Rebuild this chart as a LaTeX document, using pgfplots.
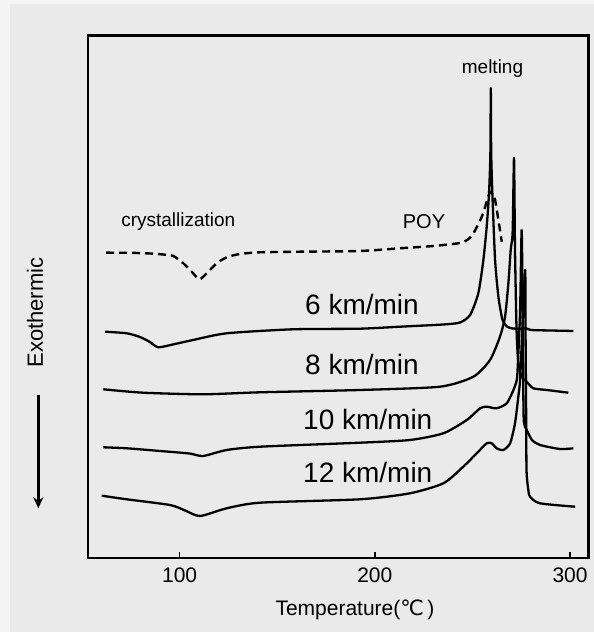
\documentclass[border=0pt]{standalone}
\usepackage{pgfplots}
\pgfplotsset{compat=1.18}
\usepackage{fontspec}
\setmainfont{Liberation Sans}
\newfontfamily\dejavu{DejaVu Sans}
\usetikzlibrary{arrows.meta}
\definecolor{bg}{HTML}{EAEAEA}
\definecolor{bgl}{HTML}{F4F4F4}
\begin{document}
\begin{tikzpicture}[x=1pt,y=1pt]
\fill[bg] (0,0) rectangle (594,632);
\fill[bgl] (0,0) rectangle (10,632);
\fill[bgl] (0,628) rectangle (594,632);
\useasboundingbox (0,0) rectangle (594,632);
\begin{axis}[
  at={(87.9pt,74pt)}, anchor=south west,
  scale only axis, width=500.5pt, height=522.5pt,
  xmin=53.02, xmax=309.4, ymin=74, ymax=596.5,
  xtick={100,200,300}, ytick=\empty,
  xtick pos=bottom, tick align=inside,
  major tick length=6pt,
  tick style={line width=1.5pt, black},
  xticklabel style={font=\fontsize{21}{21}\selectfont, yshift=-6pt},
  /pgf/number format/assume math mode=true,
  clip=false,
  curve/.style={black, line width=2.3pt, mark=none, smooth, tension=0.4, line join=round},
]
\draw[line width=2.5pt, line join=miter] (rel axis cs:0,0) rectangle (rel axis cs:1,1);
% POY (dashed)
\addplot[curve, dash pattern=on 8pt off 5pt, line width=2.4pt] coordinates {
(62.3,379.3) (74.6,379.2) (84.8,378.5) (91.5,377.5) (96.8,376) (101.9,368.7)
(106.2,360.3) (110.1,352.7) (113.9,358.7) (119.0,368.7) (124.1,374.7) (130.9,378)
(141.2,379.7) (161.7,380.3) (192.4,381) (212.9,383.7) (230,386) (243.6,389)
(248,393) (250.5,398.7) (254.8,415.3) (257.6,432) (259.0,440.3) (260.3,438)
(261.6,432) (263.3,412) (265.0,390.3)};
% 6 km/min
\addplot[curve] coordinates {
(61.8,300.3) (72.9,298.7) (79.7,295) (84.8,290) (89.1,284.7) (97.6,288)
(106.9,292) (124.1,298.7) (158.1,302.7) (192.4,303.3) (212.9,305.3) (235,307.5)
(243.6,309.5) (248.8,317) (253.0,338.7) (255.6,372) (257.3,405.3) (258.5,438.7)
(259.2,480) (259.4,544) (259.6,480) (260.2,438.7) (261.6,372) (263.3,335)
(265.0,315.3) (265.8,310.3) (267.6,305.5) (269.3,304) (272,303.3) (275,303.2)
(277.5,303.7) (280,302) (290,301.5) (301.7,301)};
% 8 km/min
\addplot[curve] coordinates {
(60.9,242.7) (81.3,239.3) (112.0,237.7) (141.2,239.7) (192.4,242) (233.4,245.3)
(250.5,255.3) (259.0,272) (264.1,295.3) (266.7,315.3) (268.4,348.7) (269.6,382)
(270.6,400.3) (271.3,474) (271.8,382) (272.6,302) (273.4,272) (274.9,256)
(277.8,250.3) (281.2,243.7) (288.1,242) (299.1,239.3)};
% 10 km/min
\addplot[curve] coordinates {
(60.9,184.7) (72.9,183.7) (90.0,181) (105,178.5) (112.0,176) (124.1,182) (141.2,185.3)
(192.4,189.3) (218.0,192) (235.1,198.7) (247.1,212) (253.9,223.7) (257.3,225.3)
(262.4,223.7) (267.6,228.7) (271.0,242) (272.7,252) (273.2,265.3) (274.4,320)
(275.2,402) (275.7,332) (276.1,232) (276.4,209) (277.8,202) (280.5,192)
(284.6,187) (294.9,183) (301.7,183.7)};
% 12 km/min
\addplot[curve] coordinates {
(60.1,136.3) (72.9,132.7) (95.1,127) (102.8,121.5) (110.5,116) (124.1,123.7)
(141.2,129.3) (192.4,132.7) (218.0,138.7) (235.1,148.7) (245.3,165.3) (252.2,178.7)
(257.3,188.7) (259.9,188.7) (262.4,183.7) (265.8,182) (269.3,188.7) (271.8,208.7)
(273.5,235.3) (274.4,252) (275.5,300) (277.0,362) (277.2,300) (277.5,220)
(277.7,162) (278.5,144) (279.5,135.3) (284.6,128.7) (302.6,125.3)};
\end{axis}
\node[font=\fontsize{19}{19}\selectfont] at (492.5,563.7) {melting};
\node[font=\fontsize{19}{19}\selectfont] at (178.3,410.3) {crystallization};
\node[font=\fontsize{20}{20}\selectfont] at (424,410.3) {POY};
\node[anchor=base west, inner sep=0, font=\fontsize{28}{28}\selectfont] at (305,317) {6 km/min};
\node[anchor=base west, inner sep=0, font=\fontsize{28}{28}\selectfont] at (305,257) {8 km/min};
\node[anchor=base west, inner sep=0, font=\fontsize{28}{28}\selectfont] at (303,202) {10 km/min};
\node[anchor=base west, inner sep=0, font=\fontsize{28}{28}\selectfont] at (303,149) {12 km/min};
\node[font=\fontsize{21}{21}\selectfont] at (355,22) {Temperature({\dejavu ℃}\,)};
\node[rotate=90, font=\fontsize{22}{22}\selectfont] at (35,319.5) {Exothermic};
\draw[line width=3pt, -{Stealth[length=11pt,width=10pt]}] (38.3,237) -- (38.3,123.7);
\end{tikzpicture}
\end{document}
